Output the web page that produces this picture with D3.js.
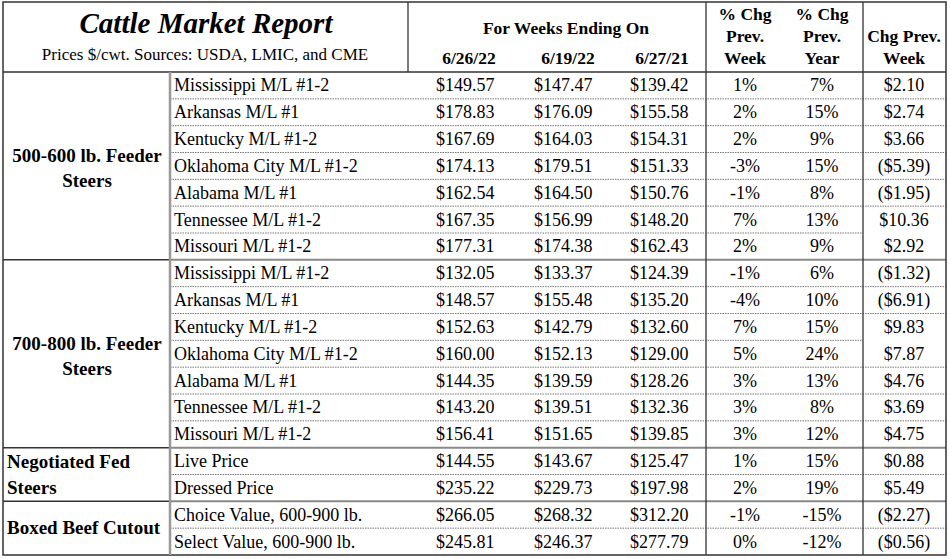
<!DOCTYPE html>
<html><head><meta charset="utf-8">
<script src="https://cdn.jsdelivr.net/npm/d3@7"></script>
<style>body{margin:0;background:#fff}text{font-family:"Liberation Serif","Times New Roman",serif;fill:#000}</style>
</head><body><div id="chart"></div>
<script>
var groups = ["500-600 lb. Feeder|Steers", "700-800 lb. Feeder|Steers", "Negotiated Fed|Steers", "Boxed Beef Cutout"];
var groupSizes = [7, 7, 2, 2];
var names = ["Mississippi M/L #1-2", "Arkansas M/L #1", "Kentucky M/L #1-2", "Oklahoma City M/L #1-2", "Alabama M/L #1", "Tennessee M/L #1-2", "Missouri M/L #1-2",
  "Mississippi M/L #1-2", "Arkansas M/L #1", "Kentucky M/L #1-2", "Oklahoma City M/L #1-2", "Alabama M/L #1", "Tennessee M/L #1-2", "Missouri M/L #1-2",
  "Live Price", "Dressed Price", "Choice Value, 600-900 lb.", "Select Value, 600-900 lb."];
var wk0626 = ["$149.57","$178.83","$167.69","$174.13","$162.54","$167.35","$177.31","$132.05","$148.57","$152.63","$160.00","$144.35","$143.20","$156.41","$144.55","$235.22","$266.05","$245.81"];
var wk0619 = ["$147.47","$176.09","$164.03","$179.51","$164.50","$156.99","$174.38","$133.37","$155.48","$142.79","$152.13","$139.59","$139.51","$151.65","$143.67","$229.73","$268.32","$246.37"];
var wk0627 = ["$139.42","$155.58","$154.31","$151.33","$150.76","$148.20","$162.43","$124.39","$135.20","$132.60","$129.00","$128.26","$132.36","$139.85","$125.47","$197.98","$312.20","$277.79"];
var pctWeek = ["1%","2%","2%","-3%","-1%","7%","2%","-1%","-4%","7%","5%","3%","3%","3%","1%","2%","-1%","0%"];
var pctYear = ["7%","15%","9%","15%","8%","13%","9%","6%","10%","15%","24%","13%","8%","12%","15%","19%","-15%","-12%"];
var chgWeek = ["$2.10","$2.74","$3.66","($5.39)","($1.95)","$10.36","$2.92","($1.32)","($6.91)","$9.83","$7.87","$4.76","$3.69","$4.75","$0.88","$5.49","($2.27)","($0.56)"];
var colHeads = ["6/26/22", "6/19/22", "6/27/21"];

var W = 950, H = 559;
var svg = d3.select("#chart").append("svg").attr("width", W).attr("height", H);
var y = d3.scaleLinear().domain([0, names.length]).range([72, 555]);
var rh = y(1) - y(0);
var cols = [436, 534, 630, 745, 822, 904];
var dark = "#333";
var fs = 18;

// dotted row separators
var starts = [0]; groupSizes.forEach(function(s, i) { starts.push(starts[i] + s); });
var skipLast = [5, 9];
d3.range(names.length).forEach(function(i) {
  if (starts.indexOf(i + 1) >= 0) return;
  var x2 = skipLast.indexOf(i) >= 0 ? 863 : 946;
  svg.append("line").attr("x1", 170).attr("x2", x2).attr("y1", y(i + 1)).attr("y2", y(i + 1))
    .attr("stroke", "#777").attr("stroke-dasharray", "1.5,1");
});

// group separators
starts.slice(1, -1).forEach(function(s) {
  svg.append("line").attr("x1", 3).attr("x2", 170).attr("y1", y(s)).attr("y2", y(s)).attr("stroke", dark).attr("stroke-width", 1.5);
  svg.append("line").attr("x1", 170).attr("x2", 946).attr("y1", y(s)).attr("y2", y(s)).attr("stroke", "#888").attr("stroke-width", 2);
});
svg.append("line").attr("x1", 3).attr("x2", 946).attr("y1", 72).attr("y2", 72).attr("stroke", dark).attr("stroke-width", 1.5);
svg.append("rect").attr("x", 3).attr("y", 2).attr("width", 943).attr("height", 553).attr("fill", "none").attr("stroke", dark).attr("stroke-width", 1.5);
svg.append("line").attr("x1", 170).attr("x2", 170).attr("y1", 72).attr("y2", 555).attr("stroke", "#999").attr("stroke-width", 2.5);
[[408, 2, 72], [706, 2, 555], [863, 2, 555]].forEach(function(v) {
  svg.append("line").attr("x1", v[0]).attr("x2", v[0]).attr("y1", v[1]).attr("y2", v[2]).attr("stroke", dark).attr("stroke-width", 1.3);
});

// header
svg.append("text").attr("x", 206).attr("y", 33).attr("text-anchor", "middle").attr("font-size", 29)
  .attr("font-weight", "bold").attr("font-style", "italic").text("Cattle Market Report");
svg.append("text").attr("x", 205).attr("y", 60).attr("text-anchor", "middle").attr("font-size", 17)
  .text("Prices $/cwt. Sources: USDA, LMIC, and CME");
svg.append("text").attr("x", 566).attr("y", 34).attr("text-anchor", "middle").attr("font-size", 17.5).attr("font-weight", "bold").text("For Weeks Ending On");
colHeads.forEach(function(h, i) {
  svg.append("text").attr("x", [469, 568, 662][i]).attr("y", 64).attr("text-anchor", "middle").attr("font-size", 17.5).attr("font-weight", "bold").text(h);
});
[[745, ["% Chg", "Prev.", "Week"]], [822, ["% Chg", "Prev.", "Year"]]].forEach(function(c) {
  c[1].forEach(function(t, j) {
    svg.append("text").attr("x", c[0]).attr("y", 20 + j * 22).attr("text-anchor", "middle").attr("font-size", 17.5).attr("font-weight", "bold").text(t);
  });
});
svg.append("text").attr("x", 904).attr("y", 42).attr("text-anchor", "middle").attr("font-size", 17.5).attr("font-weight", "bold").text("Chg Prev.");
svg.append("text").attr("x", 904).attr("y", 64).attr("text-anchor", "middle").attr("font-size", 17.5).attr("font-weight", "bold").text("Week");

// group labels
groups.forEach(function(g, i) {
  var mid = (y(starts[i]) + y(starts[i + 1])) / 2;
  var lines = g.split("|");
  lines.forEach(function(t, j) {
    var ty = lines.length === 1 ? mid + 6 : (groupSizes[i] > 2 ? mid - 4 + j * 25 : y(starts[i]) + 20 + j * 26);
    svg.append("text").attr("x", lines.length === 1 || groupSizes[i] === 2 ? 7 : 87)
      .attr("text-anchor", lines.length === 1 || groupSizes[i] === 2 ? "start" : "middle")
      .attr("y", ty).attr("font-size", 19).attr("font-weight", "bold").text(t);
  });
});

// rows
var rowData = names.map(function(n, i) { return [n, wk0626[i], wk0619[i], wk0627[i], pctWeek[i], pctYear[i], chgWeek[i]]; });
var rows = svg.selectAll("g.row").data(rowData).enter().append("g").attr("class", "row")
  .attr("transform", function(d, i) { return "translate(0," + (y(i) + rh / 2 + 6) + ")"; });
rows.append("text").attr("x", 174).attr("font-size", fs).text(function(d) { return d[0]; });
[1, 2, 3].forEach(function(k) {
  rows.append("text").attr("x", cols[k - 1]).attr("font-size", fs).text(function(d) { return d[k]; });
});
[4, 5, 6].forEach(function(k) {
  rows.append("text").attr("x", cols[k - 1]).attr("text-anchor", "middle").attr("font-size", fs).text(function(d) { return d[k]; });
});
</script></body></html>
